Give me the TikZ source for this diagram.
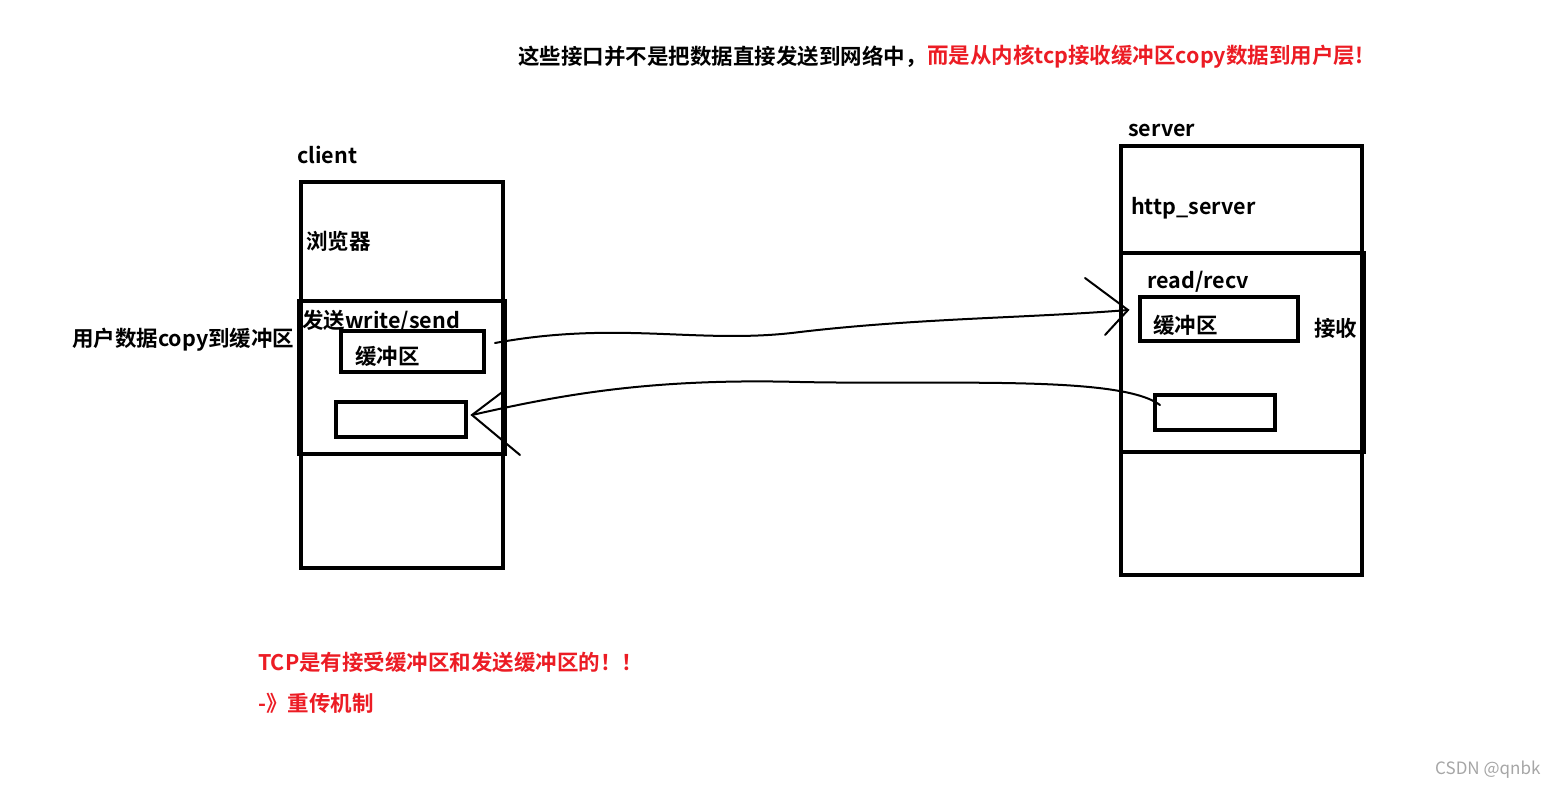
\documentclass[tikz,border=0pt]{standalone}
\usepackage{fontspec}
\setmainfont{Noto Sans CJK SC}[BoldFont=* Bold]
\definecolor{myred}{RGB}{236,28,36}
\begin{document}
\begin{tikzpicture}[x=1pt,y=-1pt,
  box/.style={draw,line width=3.5pt},
  lbl/.style={anchor=west,inner sep=0,font=\fontsize{21.5}{23}\selectfont\bfseries},
  hand/.style={line width=2pt,line cap=round}]
\useasboundingbox[fill=white] (0,0) rectangle (1565,789);
% title
\node[lbl] (t1) at (518,57) {这些接口并不是把数据直接发送到网络中，};
\node[lbl,text=myred,anchor=west] (t2) at (t1.east) {而是从内核tcp接收缓冲区copy数据到用户层!};
% client
\node[lbl] (cl) at (297,155) {client};
\draw[box] (301,182) rectangle (503,568);
\draw[box] (299,301) rectangle (505,454);
\node[lbl] (br) at (306,241) {浏览器};
\node[lbl] (ws) at (302,321) {发送write/send};
\node[lbl] (uc) at (72,340) {用户数据copy到缓冲区};
\draw[box] (341,331) rectangle (484,372);
\node[lbl] (cb) at (355,356) {缓冲区};
\draw[box] (336,402) rectangle (466,437);
% server
\node[lbl] (sv) at (1128,130) {server};
\draw[box] (1121,146) rectangle (1362,575);
\draw[box] (1121,253) rectangle (1364,452);
\node[lbl] (hs) at (1131,208) {http\_server};
\node[lbl] (rr) at (1147,282) {read/recv};
\draw[box] (1140,297) rectangle (1298,341);
\node[lbl] (sb) at (1153,325) {缓冲区};
\node[lbl] (js) at (1314,328) {接收};
\draw[box] (1155,395) rectangle (1275,430);
% connectors
\coordinate (a1) at (495,343);
\coordinate (a2) at (1128,310);
\draw[hand] (a1) .. controls (620,320) and (700,345) .. (800,332) .. controls (920,318) and (1030,318) .. (a2);
\draw[hand] (1085,278) -- (a2) -- (1105,335);
\coordinate (b1) at (1160,405);
\coordinate (b2) at (472,415);
\draw[hand] (b1) .. controls (1120,375) and (950,385) .. (800,382) .. controls (650,378) and (560,395) .. (b2);
\draw[hand] (505,390) -- (b2) -- (520,455);
% notes
\node[lbl,text=myred] (n1) at (258,662) {TCP是有接受缓冲区和发送缓冲区的！！};
\node[lbl,text=myred] (n2) at (258,703) {-》重传机制};
\node[anchor=west,inner sep=0,text=gray!70,font=\fontsize{17}{19}\selectfont] (wm) at (1435,770) {CSDN @qnbk};
\end{tikzpicture}
\end{document}
